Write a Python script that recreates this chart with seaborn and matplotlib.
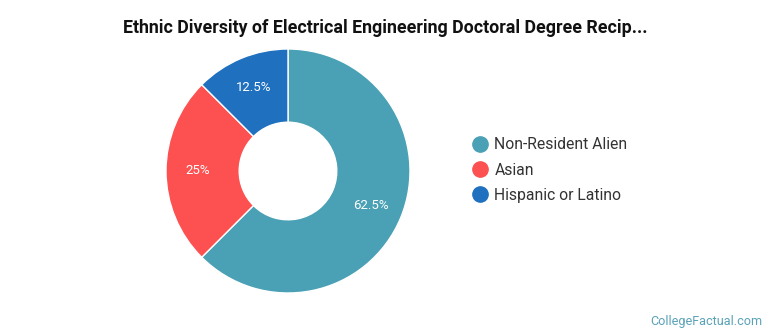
import numpy as np
import seaborn as sns
import matplotlib.pyplot as plt
from matplotlib.lines import Line2D

# data
groups = ['Non-Resident Alien', 'Asian', 'Hispanic or Latino']
shares = [62.5, 25, 12.5]
pct_labels = ['62.5%', '25%', '12.5%']
colors = ['#4aa0b4', '#fd5151', '#1f70bf']

sns.set_style('white')
plt.rcParams['font.family'] = ['Roboto', 'DejaVu Sans']

W, H = 770, 335
fig = plt.figure(figsize=(W / 100, H / 100), dpi=100)

cx, cy, r = 288, 171, 122
ax = fig.add_axes([(cx - r) / W, (H - cy - r) / H, 2 * r / W, 2 * r / H])

wedges, _ = ax.pie(shares, colors=colors, startangle=90, counterclock=False,
                   radius=1, wedgeprops=dict(width=0.6, edgecolor='white', linewidth=1))
for w, lab in zip(wedges, pct_labels):
    ang = np.deg2rad((w.theta1 + w.theta2) / 2)
    ax.text(0.74 * np.cos(ang), 0.74 * np.sin(ang), lab, ha='center', va='center',
            color='white', fontsize=9.5)
ax.set_xlim(-1, 1)
ax.set_ylim(-1, 1)
ax.set_aspect('equal')
ax.axis('off')

fig.text(385 / W, 1 - 28 / H, 'Ethnic Diversity of Electrical Engineering Doctoral Degree Recip...',
         ha='center', va='center', fontsize=12.8, fontweight='bold', color='#111111')

handles = [Line2D([0], [0], marker='o', linestyle='', markersize=11,
                  markerfacecolor=c, markeredgecolor=c) for c in colors]
fig.legend(handles, groups, loc='center left', bbox_to_anchor=(456 / W, 1 - 170 / H),
           frameon=False, fontsize=11.3, handletextpad=0.35, labelspacing=0.64,
           handlelength=1.2, labelcolor='#333333')

fig.text(762 / W, 1 - 321 / H, 'CollegeFactual.com', ha='right', va='center',
         fontsize=9.1, color='#5aa2b8')

fig.savefig('out.png', dpi=100)
